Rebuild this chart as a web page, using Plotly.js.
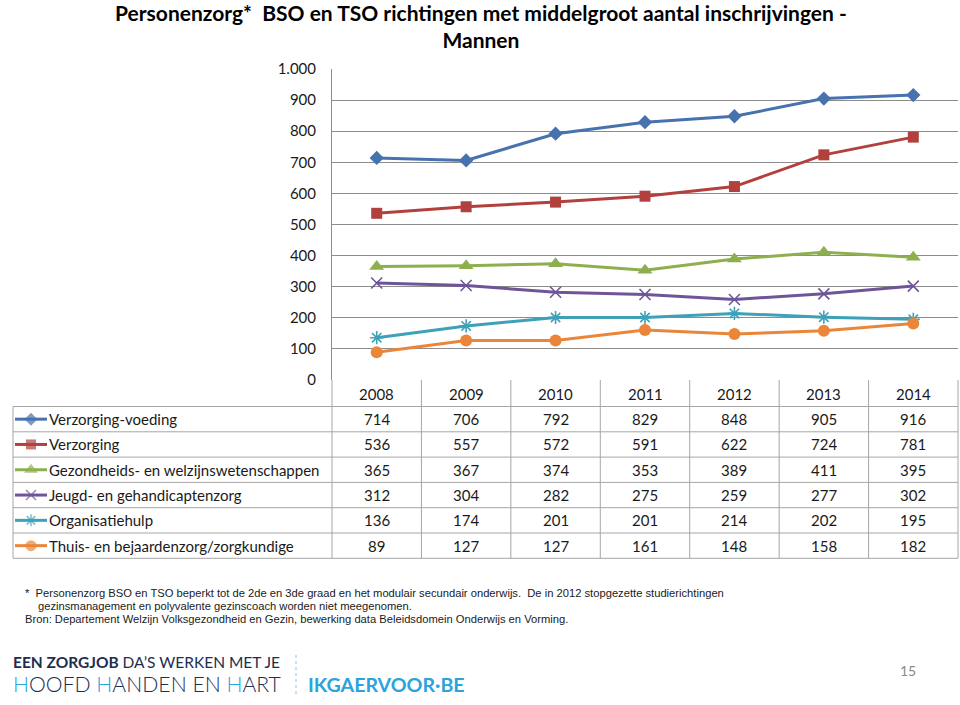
<!DOCTYPE html>
<html>
<head>
<meta charset="utf-8">
<script src="https://cdn.plot.ly/plotly-3.0.1.min.js"></script>
<style>html,body{margin:0;padding:0;background:#fff;}#chart{width:960px;height:705px;}</style>
</head>
<body>
<div id="chart"></div>
<script>
// ---- data ----
const years = ['2008','2009','2010','2011','2012','2013','2014'];
const seriesNames = [
  'Verzorging-voeding',
  'Verzorging',
  'Gezondheids- en welzijnswetenschappen',
  'Jeugd- en gehandicaptenzorg',
  'Organisatiehulp',
  'Thuis- en bejaardenzorg/zorgkundige'
];
const verzorgingVoeding = [714, 706, 792, 829, 848, 905, 916];
const verzorging        = [536, 557, 572, 591, 622, 724, 781];
const gezondheids       = [365, 367, 374, 353, 389, 411, 395];
const jeugd             = [312, 304, 282, 275, 259, 277, 302];
const organisatiehulp   = [136, 174, 201, 201, 214, 202, 195];
const thuis             = [ 89, 127, 127, 161, 148, 158, 182];
const yTicks = [0,100,200,300,400,500,600,700,800,900,1000];

const titleText = 'Personenzorg*\u00a0 BSO en TSO richtingen met middelgroot aantal inschrijvingen -<br>Mannen';
const note1 = '*  Personenzorg BSO en TSO beperkt tot de 2de en 3de graad en het modulair secundair onderwijs.\u00a0 De in 2012 stopgezette studierichtingen';
const note2 = 'gezinsmanagement en polyvalente gezinscoach worden niet meegenomen.';
const note3 = 'Bron: Departement Welzijn Volksgezondheid en Gezin, bewerking data Beleidsdomein Onderwijs en Vorming.';

// ---- styling ----
const values = [verzorgingVoeding, verzorging, gezondheids, jeugd, organisatiehulp, thuis];
const colors = ['#4672AE', '#B2403D', '#8DAF4E', '#6F5598', '#3DA1B9', '#EA8639'];
const symbols = ['diamond', 'square', 'triangle-up', 'x-thin-open', 'asterisk-open', 'circle'];
const msizes = [11, 11, 13, 11, 11, 12];

const W = 960, H = 705, L = 332, R = 958, T = 69, B = 380;
const TOPM = T;                              // top margin (title area)
const PH = H - TOPM;                         // paper height in px
const Y_MAX = 1000;
const px = x => x / W;                       // pixel -> paper fraction
const py = y => (H - y) / PH;
const colW = (R - L) / years.length;
const FONT = 'Lato, Carlito, "Open Sans", sans-serif';
const gridC = '#8c8c8c';
const tableC = '#a6a6a6';

function markerFor(i, size) {
  const open = symbols[i].indexOf('open') >= 0;
  return {
    symbol: symbols[i], size: size, color: colors[i],
    line: {color: colors[i], width: open ? 1.6 : 0}
  };
}

const traces = values.map((v, i) => ({
  type: 'scatter', mode: 'lines+markers',
  x: years.map((_, k) => k), y: v, name: seriesNames[i],
  line: {color: colors[i], width: 3},
  marker: markerFor(i, msizes[i]),
  cliponaxis: false, showlegend: false, hoverinfo: 'skip'
}));

// table geometry
const rowTop = 380, headerH = 26.5, rowH = 25.3;
const rowCenter = r => rowTop + headerH + rowH * r + rowH / 2;
const tableBottom = rowTop + headerH + rowH * seriesNames.length;

// legend-key markers on a helper subplot in pixel units
traces.push({
  type: 'scatter', mode: 'markers', xaxis: 'x2', yaxis: 'y2',
  x: seriesNames.map(() => 31), y: seriesNames.map((_, r) => rowCenter(r)),
  marker: {
    symbol: symbols, size: msizes.map(s => s - 1), color: colors,
    line: {color: colors, width: symbols.map(s => s.indexOf('open') >= 0 ? 1.5 : 0)}
  },
  showlegend: false, hoverinfo: 'skip'
});

const shapes = [];
const annotations = [];
// horizontal table lines
for (let r = 0; r <= seriesNames.length; r++) {
  const yy = rowTop + headerH + rowH * r;
  shapes.push({type: 'line', xref: 'paper', yref: 'paper', x0: px(13), x1: px(R), y0: py(yy), y1: py(yy),
    line: {color: tableC, width: 1}});
}
// vertical table lines
shapes.push({type: 'line', xref: 'paper', yref: 'paper', x0: px(13), x1: px(13), y0: py(rowTop + headerH), y1: py(tableBottom),
  line: {color: tableC, width: 1}});
for (let c = 0; c <= years.length; c++) {
  const xx = L + colW * c;
  shapes.push({type: 'line', xref: 'paper', yref: 'paper', x0: px(xx), x1: px(xx), y0: py(rowTop), y1: py(tableBottom),
    line: {color: tableC, width: 1}});
}
// legend key lines + row labels + values
seriesNames.forEach((n, r) => {
  shapes.push({type: 'line', xref: 'paper', yref: 'paper', x0: px(15), x1: px(47), y0: py(rowCenter(r)), y1: py(rowCenter(r)),
    line: {color: colors[r], width: 3}, layer: 'below'});
  annotations.push({xref: 'paper', yref: 'paper', x: px(47), y: py(rowCenter(r)), xanchor: 'left', yanchor: 'middle',
    text: n, showarrow: false, font: {family: FONT, size: 15, color: '#1a1a1a'}});
  values[r].forEach((val, k) => {
    annotations.push({xref: 'x', yref: 'paper', x: k, y: py(rowCenter(r)), xanchor: 'center', yanchor: 'middle',
      text: String(val), showarrow: false, font: {family: FONT, size: 15, color: '#1a1a1a'}});
  });
});
// header years
years.forEach((yr, k) => {
  annotations.push({xref: 'x', yref: 'paper', x: k, y: py(rowTop + headerH / 2 + 0.5), xanchor: 'center', yanchor: 'middle',
    text: yr, showarrow: false, font: {family: FONT, size: 15, color: '#1a1a1a'}});
});
// footnotes
const noteFont = {family: '"Liberation Sans", Arial, sans-serif', size: 11.2, color: '#1a1a1a'};
annotations.push({xref: 'paper', yref: 'paper', x: px(23), y: py(593), xanchor: 'left', yanchor: 'middle', text: note1, showarrow: false, font: noteFont});
annotations.push({xref: 'paper', yref: 'paper', x: px(36), y: py(606), xanchor: 'left', yanchor: 'middle', text: note2, showarrow: false, font: noteFont});
annotations.push({xref: 'paper', yref: 'paper', x: px(23), y: py(619), xanchor: 'left', yanchor: 'middle', text: note3, showarrow: false, font: noteFont});
// branding footer
const blue = '#2BA3DC', navy = '#1D2E4F';
annotations.push({xref: 'paper', yref: 'paper', x: px(11), y: py(662), xanchor: 'left', yanchor: 'middle', showarrow: false,
  text: '<b>EEN ZORGJOB</b> DA\u2019S WERKEN MET JE',
  font: {family: FONT, size: 15.5, color: navy}});
annotations.push({xref: 'paper', yref: 'paper', x: px(11), y: py(684), xanchor: 'left', yanchor: 'middle', showarrow: false,
  text: '<span style="color:' + blue + '">H</span>OOFD <span style="color:' + blue + '">H</span>ANDEN EN <span style="color:' + blue + '">H</span>ART',
  font: {family: FONT, size: 21.2, color: navy, weight: 300}});
shapes.push({type: 'line', xref: 'paper', yref: 'paper', x0: px(296), x1: px(296), y0: py(655), y1: py(696),
  line: {color: '#9fd3ee', width: 1.2, dash: 'dot'}});
annotations.push({xref: 'paper', yref: 'paper', x: px(306), y: py(684), xanchor: 'left', yanchor: 'middle', showarrow: false,
  text: '<b>IKGAERVOOR\u00b7BE</b>', font: {family: FONT, size: 19.6, color: blue}});
annotations.push({xref: 'paper', yref: 'paper', x: px(908), y: py(670), xanchor: 'center', yanchor: 'middle', showarrow: false,
  text: '15', font: {family: FONT, size: 14, color: '#8a8a8a'}});

const layout = {
  width: W, height: H,
  margin: {l: 0, r: 0, t: TOPM, b: 0, pad: 0},
  paper_bgcolor: '#ffffff', plot_bgcolor: 'rgba(0,0,0,0)',
  separators: ',.',
  title: {text: titleText, x: 0.501, xref: 'container', xanchor: 'center', y: 0.970, yref: 'container', yanchor: 'top',
    font: {family: FONT, size: 21, weight: 'bold', color: '#000'}},
  xaxis: {domain: [L / W, R / W], anchor: 'y', range: [-0.5, 6.5], showticklabels: false, showgrid: false, zeroline: false,
    showline: false, ticks: '', fixedrange: true},
  yaxis: {domain: [py(B), py(T)], anchor: 'x', range: [0, Y_MAX], tickvals: yTicks, tickformat: ',d', separatethousands: true,
    showgrid: true, gridcolor: gridC, gridwidth: 1, zeroline: false,
    showline: true, linecolor: gridC, linewidth: 1, ticks: '', ticklabelstandoff: 12,
    tickfont: {family: FONT, size: 15, color: '#1a1a1a'}, fixedrange: true},
  xaxis2: {domain: [0, 1], anchor: 'y2', range: [0, W], visible: false, fixedrange: true},
  yaxis2: {domain: [0, 1], anchor: 'x2', range: [H, TOPM], visible: false, fixedrange: true},
  shapes: shapes,
  annotations: annotations,
  showlegend: false
};
Plotly.newPlot('chart', traces, layout, {displayModeBar: false, staticPlot: true});
</script>
</body>
</html>
